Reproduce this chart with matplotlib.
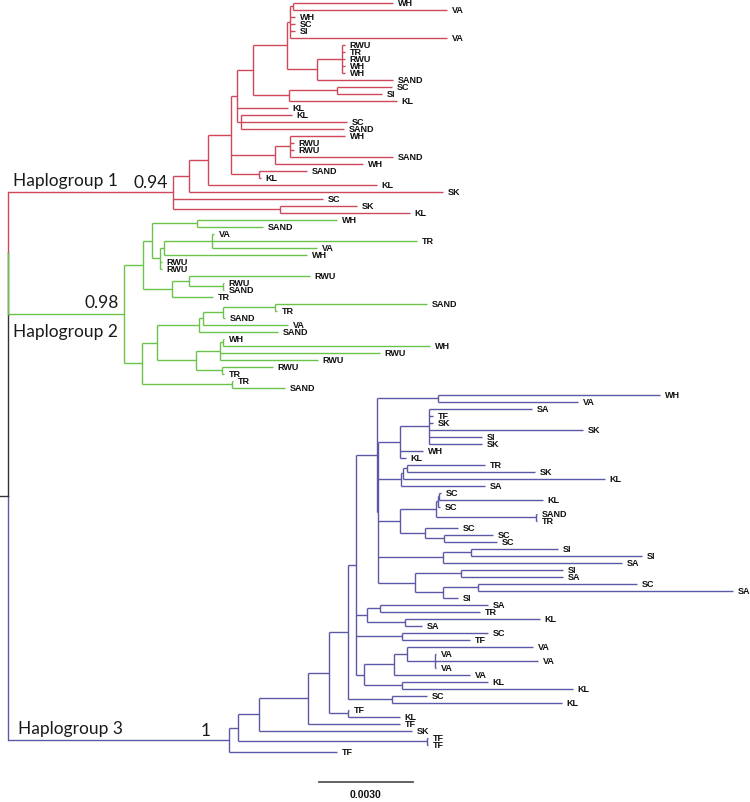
import matplotlib.pyplot as plt

# Depth of every node from the root, in units of 0.0001 substitutions/site.
# Internal node: [depth, child, child, ...]   tip: (label, depth)
haplogroup_1 = [52.6,
    [57.7,
        [63.8,
            [71.1,
                [73.1,
                    [78.2,
                        [89.0,
                            [90.0,
                                [90.9, ("WH", 122.8), ("VA", 140.0)],
                                ("WH", 91.5), ("SC", 91.5), ("SI", 91.5),
                                ("VA", 140.0)],
                            [98.6,
                                [106.5, ("RWU", 107.5), ("TR", 107.5), ("RWU", 107.5),
                                 ("WH", 107.5), ("WH", 107.5)],
                                ("SAND", 122.8)]],
                        [89.6,
                            [105.0, ("SC", 122.5), ("SI", 119.3)],
                            ("KL", 124.1)]],
                    ("KL", 89.3),
                    [74.3, ("KL", 90.6), ("SC", 108.1), ("SAND", 107.2)]],
                [85.2,
                    [90.0, ("WH", 107.5), ("RWU", 91.2), ("RWU", 91.2), ("SAND", 122.8)],
                    ("WH", 113.2)],
                [80.1, ("SAND", 95.4), ("KL", 80.7)]],
            ("KL", 117.7)],
        ("SK", 138.8)],
    ("SC", 100.5),
    [86.8, ("SK", 111.3), ("KL", 128.2)]]

haplogroup_2 = [37.0,
    [43.1,
        [45.9,
            [60.3, ("WH", 105.0), ("SAND", 81.3)],
            [48.5,
                [49.8,
                    [65.1, ("VA", 65.7), ("TR", 130.5), ("VA", 98.6)],
                    ("WH", 95.4)],
                ("RWU", 49.0), ("RWU", 49.0)]],
        [52.3,
            [57.7, ("RWU", 96.3), [68.6, ("RWU", 68.9), ("SAND", 68.9)]],
            ("TR", 65.4)]],
    [42.7,
        [47.5,
            [60.9,
                [62.2,
                    [68.6, [85.2, ("SAND", 133.7), ("TR", 85.8)], ("SAND", 69.2)],
                    ("VA", 89.3)],
                ("SAND", 86.1)],
            [60.0,
                [67.6, [68.6, ("WH", 68.9), ("WH", 134.6)], ("RWU", 118.7), ("RWU", 98.9)],
                [68.3, ("RWU", 84.5), ("TR", 68.9)]]],
        [71.5, ("TR", 71.8), ("SAND", 88.4)]]]

haplogroup_3 = [70.5,
    [73.4,
        [80.1,
            [95.7,
                [102.4,
                    [108.5,
                        [111.0,
                            [117.7,
                                [137.2, ("WH", 208.0), ("VA", 181.8)],
                                [118.0,
                                    [125.0,
                                        [134.3, ("SA", 167.2), ("TF", 135.6), ("SK", 135.6),
                                         ("SK", 183.4), ("SI", 151.2), ("SK", 151.2)],
                                        ("WH", 132.4), ("KL", 127.0)],
                                    [125.4,
                                        [126.0, [127.3, ("TR", 152.2), ("SK", 168.1)], ("KL", 190.4)],
                                        ("SA", 152.2)],
                                    [125.0,
                                        [136.5,
                                            [137.2, [137.5, ("SC", 138.1), ("KL", 170.7)], ("SC", 137.8)],
                                            [168.4, ("SAND", 168.8), ("TR", 168.8)]],
                                        [133.0, ("SC", 143.6), [139.1, ("SC", 154.7), ("SC", 156.0)]]],
                                    [138.8, [147.7, ("SI", 175.5), ("SI", 202.2)], ("SA", 195.9)],
                                    [129.8,
                                        [144.5, ("SI", 177.0), ("SA", 177.0)],
                                        [138.8, [149.9, ("SC", 200.7), ("SA", 231.3)], ("SI", 143.6)]]]],
                            [114.5,
                                [118.7, ("SA", 153.1), ("TR", 150.6)],
                                [126.6, ("KL", 169.7), ("SA", 132.1)]],
                            [125.7, ("SC", 153.1), ("TF", 147.4)],
                            [113.6,
                                [123.1,
                                    [127.3, ("VA", 167.5),
                                     [136.2, ("VA", 136.5), ("VA", 169.1), ("VA", 136.5)]],
                                    ("VA", 147.4)],
                                [125.7, ("KL", 153.1), ("KL", 180.2)]]],
                        [122.5, ("SC", 133.7), ("KL", 176.7)]],
                    [108.5, ("TF", 108.9), ("KL", 125.0)]],
                ("TF", 125.0)],
            ("SK", 128.9)],
        [133.7, ("TF", 134.0), ("TF", 134.0)]],
    ("TF", 105.0)]

group_names = ["Haplogroup 1", "Haplogroup 2", "Haplogroup 3"]
group_support = ["0.94", "0.98", "1"]
group_colors = ["#cf475b", "#6bc24a", "#5b59a7"]
scale_length = 30.0          # 0.0030 substitutions/site
scale_text = "0.0030"

LW = 1.0
counter = [0]


def draw(ax, node, parent_depth, color):
    if isinstance(node, tuple):
        label, depth = node
        y = counter[0]
        counter[0] += 1
        ax.plot([parent_depth, depth], [y, y], color=color, lw=LW, solid_capstyle='butt')
        ax.text(depth + 1.5, y, label, fontsize=6.5, fontweight='bold',
                family='Liberation Sans', va='center', ha='left', color='#111111')
        return y
    depth = node[0]
    ys = [draw(ax, child, depth, color) for child in node[1:]]
    y = (ys[0] + ys[-1]) / 2
    ax.plot([depth, depth], [ys[0], ys[-1]], color=color, lw=LW, solid_capstyle='butt')
    ax.plot([parent_depth, depth], [y, y], color=color, lw=LW, solid_capstyle='butt')
    return y


fig = plt.figure(figsize=(7.5, 8.03), dpi=100)
ax = fig.add_axes([0, 0, 1, 1])
ax.axis('off')

groups = [haplogroup_1, haplogroup_2, haplogroup_3]
ys = [draw(ax, g, 0.0, c) for g, c in zip(groups, group_colors)]

# root and the node joining haplogroups 1 and 2
y12 = (ys[0] + ys[1]) / 2
root_y = (y12 + ys[2]) / 2
ax.plot([0, 0], [y12, root_y], color='#333333', lw=LW)
ax.plot([0, 0], [root_y, ys[2]], color=group_colors[2], lw=LW)
ax.plot([0, 0], [ys[0], y12], color=group_colors[0], lw=LW)
ax.plot([0, 0], [y12, ys[1]], color=group_colors[1], lw=LW)
ax.plot([-3, 0], [root_y, root_y], color='#333333', lw=LW)

label_font = dict(family='Lato', fontsize=12.5, color='#1a1a1a')
ax.text(1.6, ys[0] - 1.0, group_names[0], va='baseline', **label_font)
ax.text(40.0, ys[0] - 0.8, group_support[0], va='baseline', **label_font)
ax.text(24.5, ys[1] - 1.0, group_support[1], va='baseline', **label_font)
ax.text(1.6, ys[1] + 3.1, group_names[1], va='baseline', **label_font)
ax.text(3.2, ys[2] - 1.0, group_names[2], va='baseline', **label_font)
ax.text(61.5, ys[2] - 0.6, group_support[2], va='baseline', **label_font)

# scale bar
sx, sy = 99.2, 111.4
ax.plot([sx, sx + scale_length], [sy, sy], color='#555555', lw=1.3)
ax.text(sx + scale_length / 2, sy + 1.7, scale_text, ha='center', va='center',
        fontsize=7.5, fontweight='bold', family='Liberation Sans', color='#111111')

ax.set_xlim(-2.55, 236.7)
ax.set_ylim(114.2, -0.5)

fig.savefig('out.png', dpi=100)
